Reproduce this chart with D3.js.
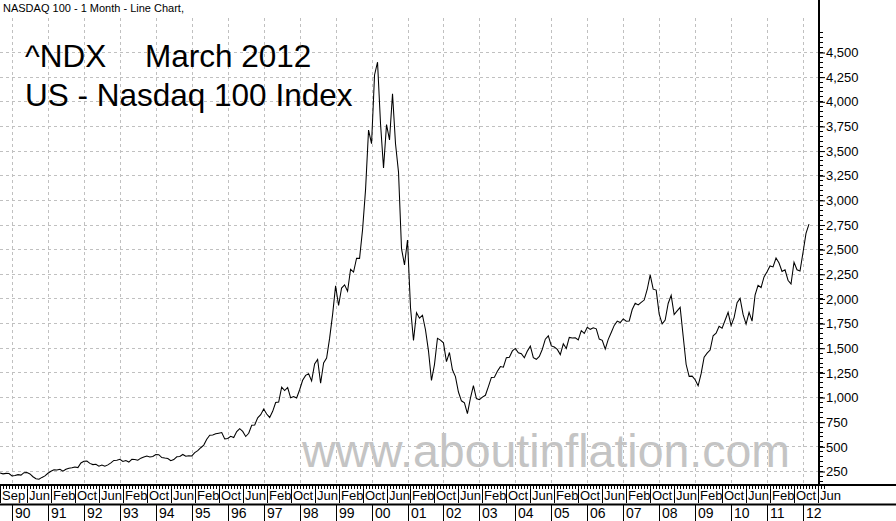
<!DOCTYPE html>
<html><head><meta charset="utf-8">
<script src="https://cdn.jsdelivr.net/npm/d3@7/dist/d3.min.js"></script>
<style>html,body{margin:0;padding:0;background:#fff;overflow:hidden}</style>
</head><body>
<svg id="c" width="896" height="521"></svg>
<script>
// ---- data ----
const firstMonthIndex = -4; // Sep 1989 (0 = Jan 1990)
const closes1989 = [229, 221, 226, 224];
const closes1990s = [
  200, 205, 213, 208, 233, 235, 220, 192, 172, 166, 185, 200,
  227, 248, 263, 260, 268, 248, 267, 279, 283, 291, 285, 331,
  349, 350, 327, 315, 318, 298, 311, 298, 312, 333, 357, 360,
  369, 347, 357, 341, 368, 367, 360, 380, 391, 402, 392, 398,
  418, 415, 386, 381, 377, 354, 366, 394, 398, 418, 399, 404,
  403, 436, 456, 486, 513, 572, 613, 616, 627, 634, 640, 576,
  580, 602, 590, 650, 680, 652, 600, 633, 714, 717, 789, 821,
  878, 828, 793, 855, 944, 950, 1100, 1066, 1097, 992, 1005, 991,
  1074, 1170, 1220, 1237, 1164, 1337, 1382, 1140, 1345, 1396, 1595, 1836,
  2128, 1929, 2106, 2138, 2073, 2296, 2268, 2408, 2407, 2697, 3104, 3708
];
const closes2000s = [
  3570, 4267, 4397, 3773, 3324, 3763, 3609, 4077, 3570, 3282, 2506, 2341,
  2593, 1908, 1573, 1855, 1800, 1830, 1683, 1469, 1168, 1329, 1596, 1577,
  1550, 1359, 1452, 1277, 1208, 1051, 962, 942, 832, 989, 1116, 985,
  974, 1000, 1018, 1106, 1199, 1201, 1262, 1309, 1303, 1400, 1404, 1468,
  1493, 1450, 1439, 1398, 1466, 1517, 1400, 1383, 1412, 1485, 1587, 1621,
  1519, 1508, 1483, 1431, 1540, 1493, 1605, 1600, 1601, 1579, 1673, 1645,
  1708, 1687, 1703, 1692, 1588, 1575, 1487, 1585, 1655, 1727, 1770, 1756,
  1793, 1769, 1772, 1888, 1951, 1934, 1961, 1984, 2091, 2239, 2094, 2085,
  1842, 1742, 1781, 1949, 2031, 1837, 1874, 1910, 1619, 1330, 1210, 1212,
  1176, 1114, 1237, 1404, 1445, 1477, 1622, 1647, 1718, 1698, 1779, 1860
];
const closes2010s = [
  1727, 1806, 1957, 2001, 1838, 1740, 1860, 1770, 2033, 2133, 2111, 2218,
  2270, 2330, 2320, 2410, 2360, 2274, 2290, 2185, 2147, 2368, 2291, 2278,
  2466, 2660, 2755
];
const yTicks = [250,500,750,1000,1250,1500,1750,2000,2250,2500,2750,3000,3250,3500,3750,4000,4250,4500];
const yearLabels = ["90","91","92","93","94","95","96","97","98","99","00","01","02","03","04","05","06","07","08","09","10","11","12"];
const monthNames = ["Jan","Feb","Mar","Apr","May","Jun","Jul","Aug","Sep","Oct","Nov","Dec"];
const headerText = "NASDAQ 100 - 1 Month - Line Chart,";
const titleSymbol = "^NDX";
const titleDate = "March 2012";
const titleName = "US - Nasdaq 100 Index";
const watermark = "www.aboutinflation.com";

const values = closes1989.concat(closes1990s, closes2000s, closes2010s);
const series = values.map((v, i) => ({m: firstMonthIndex + i, v}));

// ---- layout ----
const W = 896, H = 521;
const axisX = 819, plotTop = 18, plotBottom = 485;
const x = d3.scaleLinear().domain([0, 264]).range([12, 803]);
const y = d3.scaleLinear().domain([250, 4500]).range([471, 52]);

const svg = d3.select("#c");
svg.append("rect").attr("width", W).attr("height", H).attr("fill", "#fff");

const grid = svg.append("g").attr("stroke", "#c0c0c0").attr("stroke-dasharray", "3,3").attr("stroke-width", 1);
grid.selectAll("line.h").data(yTicks).join("line")
  .attr("x1", 0).attr("x2", axisX).attr("y1", d => Math.round(y(d)) + 0.5).attr("y2", d => Math.round(y(d)) + 0.5);
grid.selectAll("line.v").data(yearLabels.map((d, i) => i * 12)).join("line")
  .attr("x1", d => Math.round(x(d)) + 0.5).attr("x2", d => Math.round(x(d)) + 0.5)
  .attr("y1", plotTop).attr("y2", plotBottom - 1);

// watermark
svg.append("text").attr("x", 302).attr("y", 467).text(watermark)
  .attr("font-family", "Arial, 'Liberation Sans', sans-serif").attr("font-size", 47)
  .attr("fill", "#c4c4c4").attr("textLength", 488).attr("lengthAdjust", "spacingAndGlyphs");

// header and title
svg.append("text").attr("x", 3).attr("y", 12).text(headerText)
  .attr("font-family", "Arial, 'Liberation Sans', sans-serif").attr("font-size", 11).attr("fill", "#000");
const tf = "Arial, 'Liberation Sans', sans-serif";
svg.append("text").attr("x", 25).attr("y", 67).text(titleSymbol).attr("font-family", tf).attr("font-size", 31.5);
svg.append("text").attr("x", 145).attr("y", 67).text(titleDate).attr("font-family", tf).attr("font-size", 31.5);
svg.append("text").attr("x", 25).attr("y", 106).text(titleName).attr("font-family", tf).attr("font-size", 31.5);

// line
svg.append("clipPath").attr("id", "clip").append("rect")
  .attr("x", 0).attr("y", plotTop).attr("width", axisX).attr("height", plotBottom - plotTop);
svg.append("path").datum(series)
  .attr("clip-path", "url(#clip)")
  .attr("fill", "none").attr("stroke", "#000").attr("stroke-width", 1.05)
  .attr("d", d3.line().x(d => x(d.m)).y(d => y(d.v)));

// right axis
const narrow = "'Liberation Sans Narrow', 'Arial Narrow', Arial, sans-serif";
svg.append("rect").attr("x", axisX).attr("y", 0).attr("width", W - axisX).attr("height", plotBottom).attr("fill", "#fff");
const minor = d3.range(150, 4701, 50);
svg.append("g").selectAll("line").data(minor).join("line")
  .attr("x1", axisX).attr("x2", axisX + 4)
  .attr("y1", d => Math.round(y(d)) + 0.5).attr("y2", d => Math.round(y(d)) + 0.5)
  .attr("stroke", "#000");
const yAxis = d3.axisRight(y).tickValues(yTicks).tickSize(6).tickPadding(1).tickFormat(d3.format(","));
const ya = svg.append("g").attr("transform", `translate(${axisX},0.5)`).call(yAxis);
ya.select(".domain").remove();
ya.selectAll("text").attr("font-family", narrow).attr("font-size", 13).attr("fill", "#000");
ya.selectAll("line").attr("stroke", "#000");
svg.append("line").attr("x1", axisX).attr("x2", axisX).attr("y1", 0).attr("y2", plotBottom + 1)
  .attr("stroke", "#000").attr("stroke-width", 2);

// bottom axis
svg.append("rect").attr("x", 0).attr("y", plotBottom - 1).attr("width", W).attr("height", H - plotBottom + 1).attr("fill", "#fff");
svg.append("line").attr("x1", 0).attr("x2", W).attr("y1", plotBottom).attr("y2", plotBottom)
  .attr("stroke", "#000").attr("stroke-width", 2);
svg.append("line").attr("x1", 0).attr("x2", W).attr("y1", 504.5).attr("y2", 504.5)
  .attr("stroke", "#000").attr("stroke-width", 2);
const allMonths = d3.range(-4, 272);
svg.append("g").selectAll("line").data(allMonths).join("line")
  .attr("x1", d => Math.round(x(d)) + 0.5).attr("x2", d => Math.round(x(d)) + 0.5)
  .attr("y1", plotBottom + 1).attr("y2", plotBottom + 4).attr("stroke", "#000");
const monthLabelMonths = [-4].concat(d3.range(5, 270, 8));
const ml = svg.append("g");
ml.selectAll("line").data(monthLabelMonths).join("line")
  .attr("x1", d => Math.round(x(d)) + 0.5).attr("x2", d => Math.round(x(d)) + 0.5)
  .attr("y1", plotBottom + 1).attr("y2", 503).attr("stroke", "#000");
ml.selectAll("text").data(monthLabelMonths).join("text")
  .attr("x", d => Math.round(x(d)) + 2).attr("y", 500)
  .text(d => monthNames[((d % 12) + 12) % 12])
  .attr("font-family", narrow).attr("font-size", 13).attr("fill", "#000");
const yl = svg.append("g");
yl.selectAll("line").data(yearLabels).join("line")
  .attr("x1", (d, i) => Math.round(x(i * 12)) + 0.5).attr("x2", (d, i) => Math.round(x(i * 12)) + 0.5)
  .attr("y1", 505).attr("y2", H).attr("stroke", "#000");
yl.selectAll("text").data(yearLabels).join("text")
  .attr("x", (d, i) => Math.round(x(i * 12)) + 3).attr("y", 518)
  .text(d => d)
  .attr("font-family", narrow).attr("font-size", 14).attr("fill", "#000");
</script>
</body></html>
